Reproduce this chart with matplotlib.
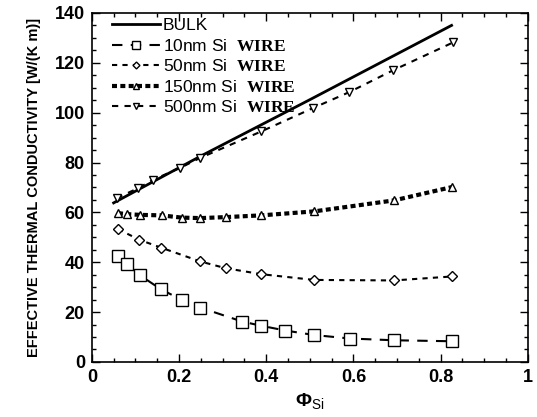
import matplotlib
matplotlib.use("Agg")
import matplotlib.pyplot as plt
from matplotlib.ticker import MultipleLocator

plt.rcParams["font.family"] = ["Liberation Sans", "DejaVu Sans"]
plt.rcParams["mathtext.fontset"] = "custom"
plt.rcParams["mathtext.rm"] = "Liberation Sans"
plt.rcParams["mathtext.bf"] = "Liberation Serif:bold"

# data
bulk_x = [0.05, 0.25, 0.5, 0.825]
bulk_y = [63.8, 82.6, 105.2, 135.0]

w10_x = [0.06, 0.08, 0.11, 0.158, 0.206, 0.249, 0.345, 0.389, 0.444, 0.51, 0.592, 0.693, 0.827]
w10_y = [42.6, 39.4, 34.8, 29.2, 24.9, 21.8, 16.2, 14.5, 12.6, 10.8, 9.4, 8.7, 8.3]

w50_x = [0.06, 0.109, 0.158, 0.249, 0.307, 0.389, 0.51, 0.693, 0.827]
w50_y = [53.3, 49.0, 45.9, 40.3, 37.6, 35.2, 32.9, 32.7, 34.3]

w150_x = [0.06, 0.08, 0.11, 0.16, 0.206, 0.249, 0.307, 0.389, 0.51, 0.693, 0.827]
w150_y = [59.7, 59.3, 59.0, 58.8, 57.9, 57.7, 58.1, 58.8, 60.4, 64.8, 70.2]

w500_x = [0.057, 0.106, 0.141, 0.202, 0.248, 0.389, 0.508, 0.59, 0.691, 0.829]
w500_y = [65.7, 69.7, 73.1, 77.8, 81.8, 92.5, 101.9, 108.2, 117.0, 128.2]

fig = plt.figure(figsize=(5.37, 4.17), dpi=100)
ax = fig.add_axes([0.171, 0.132, 0.812, 0.837])

ax.plot(bulk_x, bulk_y, color="black", lw=2, label="BULK")
ax.plot(w10_x, w10_y, color="black", lw=1.5, dashes=(5, 4),
        marker="s", ms=8, mfc="white", mec="black", mew=1,
        label=r"10nm Si  $\mathbf{WIRE}$")
ax.plot(w50_x, w50_y, color="black", lw=1.5, dashes=(2.5, 2.5),
        marker="D", ms=5, mfc="white", mec="black", mew=1,
        label=r"50nm Si  $\mathbf{WIRE}$")
ax.plot(w150_x, w150_y, color="black", lw=3, dashes=(1.2, 0.8),
        marker="^", ms=6, mfc="white", mec="black", mew=1,
        label=r"150nm Si  $\mathbf{WIRE}$")
ax.plot(w500_x, w500_y, color="black", lw=1.5, dashes=(3, 3),
        marker="v", ms=6, mfc="white", mec="black", mew=1,
        label=r"500nm Si  $\mathbf{WIRE}$")

ax.set_xlim(0, 1)
ax.set_ylim(0, 140)
ax.xaxis.set_major_locator(MultipleLocator(0.2))
ax.xaxis.set_minor_locator(MultipleLocator(0.05))
ax.yaxis.set_major_locator(MultipleLocator(20))
ax.yaxis.set_minor_locator(MultipleLocator(5))
ax.tick_params(which="both", direction="in", top=True, right=True, width=1)
ax.tick_params(which="major", length=6, labelsize=13, pad=5)
ax.tick_params(which="minor", length=3)
ax.set_xticks([0, 0.2, 0.4, 0.6, 0.8, 1])
ax.set_xticklabels(["0", "0.2", "0.4", "0.6", "0.8", "1"])
for lab in ax.get_xticklabels() + ax.get_yticklabels():
    lab.set_fontweight("bold")
for sp in ax.spines.values():
    sp.set_linewidth(1.2)

ax.set_xlabel(r"Φ$_{\rm Si}$", fontsize=14, fontweight="bold", labelpad=4)
ax.set_ylabel("EFFECTIVE THERMAL CONDUCTIVITY [W/(K m)]",
              fontsize=10.5, fontweight="bold", labelpad=10)

ax.legend(loc="upper left", bbox_to_anchor=(0.03, 1.005), frameon=False,
          fontsize=12.5, handlelength=2.8, handletextpad=0.15,
          labelspacing=0.26, borderaxespad=0, markerscale=0.7)

fig.savefig("out.png", dpi=100)
